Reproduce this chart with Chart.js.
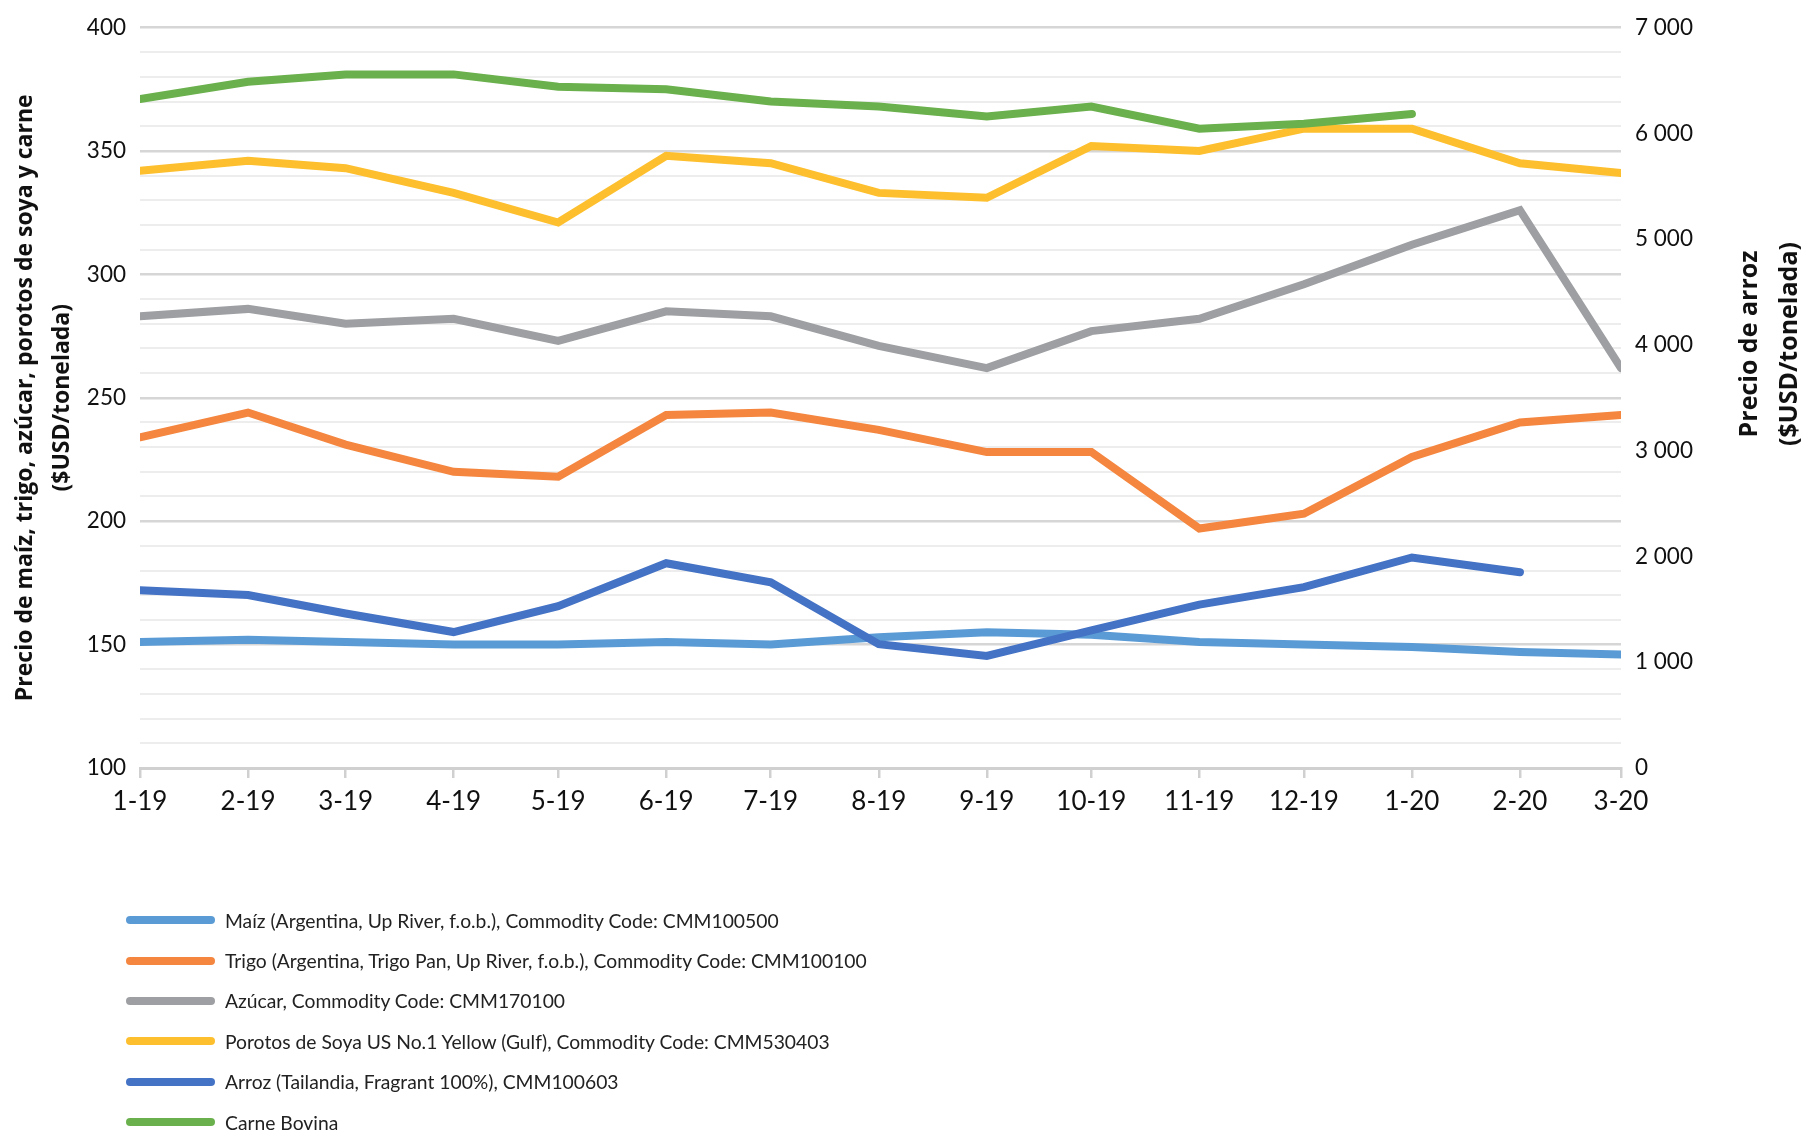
<!DOCTYPE html>
<html>
<head>
<meta charset="utf-8">
<script src="https://cdn.jsdelivr.net/npm/chart.js@4.4.1/dist/chart.umd.min.js"></script>
<style>
  html, body { margin: 0; padding: 0; background: #fff; }
  #wrap { position: relative; width: 1817px; height: 1133px; }
  #legend { position: absolute; left: 126px; top: 900px; font-family: Lato, "Open Sans", sans-serif; font-size: 19.3px; color: #222; }
  #legend .row { height: 40.4px; display: flex; align-items: center; }
  #legend .sw { width: 89px; height: 8px; border-radius: 4px; margin-right: 10px; }
</style>
</head>
<body>
<div id="wrap">
  <canvas id="myChart"></canvas>
  <div id="legend"></div>
</div>
<script>
var months = ['1-19', '2-19', '3-19', '4-19', '5-19', '6-19', '7-19', '8-19', '9-19', '10-19', '11-19', '12-19', '1-20', '2-20', '3-20'];

var maiz   = [151, 152, 151, 150, 150, 151, 150, 153, 155, 154, 151, 150, 149, 147, 146];
var trigo  = [234, 244, 231, 220, 218, 243, 244, 237, 228, 228, 197, 203, 226, 240, 243];
var azucar = [283, 286, 280, 282, 273, 285, 283, 271, 262, 277, 282, 296, 312, 326, 262];
var soya   = [342, 346, 343, 333, 321, 348, 345, 333, 331, 352, 350, 359, 359, 345, 341];
var arroz  = [1680, 1635, 1460, 1285, 1530, 1936, 1755, 1170, 1060, 1300, 1545, 1710, 1990, 1850, null];
var carne  = [371, 378, 381, 381, 376, 375, 370, 368, 364, 368, 359, 361, 365, null, null];

var leftTicks = [100, 400, 10];   // min, max, step
var rightTicks = [0, 7000, 1000];

// day offset of each month from the first one (date axis spacing)
function monthDate(lbl) {
    var p = lbl.split('-');
    return Date.UTC(2000 + Number(p[1]), Number(p[0]) - 1, 1);
}
var dayX = months.map(function (m) { return Math.round((monthDate(m) - monthDate(months[0])) / 86400000); });

function pts(arr) {
    return arr.map(function (v, i) { return {x: dayX[i], y: v}; });
}
function spaced(v) {
    return String(v).replace(/\B(?=(\d{3})+(?!\d))/g, ' ');
}

var series = [
    {label: 'Maíz (Argentina, Up River, f.o.b.), Commodity Code: CMM100500', data: maiz, color: '#5B9BD5', axis: 'y'},
    {label: 'Trigo (Argentina, Trigo Pan, Up River, f.o.b.), Commodity Code: CMM100100', data: trigo, color: '#F4863F', axis: 'y'},
    {label: 'Azúcar, Commodity Code: CMM170100', data: azucar, color: '#9D9FA2', axis: 'y'},
    {label: 'Porotos de Soya US No.1 Yellow (Gulf), Commodity Code: CMM530403', data: soya, color: '#FDBF2D', axis: 'y'},
    {label: 'Arroz (Tailandia, Fragrant 100%), CMM100603', data: arroz, color: '#4472C4', axis: 'y2'},
    {label: 'Carne Bovina', data: carne, color: '#6AB04C', axis: 'y'}
];

var rightTitle = {
    id: 'rightTitle',
    afterDraw: function (chart) {
        var c = chart.ctx;
        c.save();
        c.font = 'bold 25px "Open Sans", Lato, sans-serif';
        c.fillStyle = '#111';
        c.textAlign = 'center';
        c.textBaseline = 'middle';
        c.translate(1750, 344);
        c.rotate(-Math.PI / 2);
        c.fillText('Precio de arroz', 0, 0);
        c.fillText('($USD/tonelada)', 0, 40);
        c.restore();
    }
};

var ctx = document.getElementById('myChart').getContext('2d');
var myChart = new Chart(ctx, {
    type: 'line',
    data: {
        datasets: series.map(function (s, i) {
            return {
                label: s.label,
                data: pts(s.data),
                yAxisID: s.axis,
                borderColor: s.color,
                backgroundColor: s.color,
                borderWidth: 8,
                borderCapStyle: 'round',
                pointRadius: 0,
                tension: 0,
                fill: false,
                spanGaps: false,
                order: series.length - i
            };
        })
    },
    options: {
        responsive: true,
        maintainAspectRatio: false,
        animation: false,
        layout: {padding: {top: 21, left: 0, right: 0, bottom: 305}},
        plugins: {
            legend: {display: false},
            tooltip: {enabled: false}
        },
        scales: {
            x: {
                type: 'linear',
                min: dayX[0],
                max: dayX[dayX.length - 1],
                afterBuildTicks: function (scale) {
                    scale.ticks = dayX.map(function (v) { return {value: v}; });
                },
                afterFit: function (scale) { scale.height = 60; },
                grid: {drawOnChartArea: false, drawTicks: true, tickLength: 10, color: '#d0d0d0', lineWidth: 2.5},
                border: {display: true, color: '#d0d0d0', width: 3},
                ticks: {
                    autoSkip: false,
                    maxRotation: 0,
                    padding: 8,
                    color: '#111',
                    font: {family: 'Lato, "Open Sans", sans-serif', size: 26},
                    callback: function (v) { return months[dayX.indexOf(v)]; }
                }
            },
            y: {
                position: 'left',
                min: leftTicks[0],
                max: leftTicks[1],
                afterFit: function (scale) { scale.width = 140; },
                grid: {
                    drawTicks: false,
                    color: function (c) { return c.tick.value % 50 === 0 ? '#d6d6d6' : '#ededed'; },
                    lineWidth: function (c) { return c.tick.value % 50 === 0 ? 2.5 : 2; }
                },
                border: {display: false},
                ticks: {
                    stepSize: leftTicks[2],
                    autoSkip: false,
                    padding: 14,
                    color: '#111',
                    font: {family: 'Lato, "Open Sans", sans-serif', size: 22.5},
                    callback: function (v) { return v % 50 === 0 ? v : ''; }
                },
                title: {
                    display: true,
                    text: ['Precio de maíz, trigo, azúcar, porotos de soya y carne', '($USD/tonelada)'],
                    color: '#111',
                    padding: {top: 7, bottom: 0},
                    font: {family: '"Open Sans", Lato, sans-serif', size: 23, weight: 'bold', lineHeight: 1.61}
                }
            },
            y2: {
                position: 'right',
                min: rightTicks[0],
                max: rightTicks[1],
                afterFit: function (scale) { scale.width = 196; },
                grid: {drawOnChartArea: false, drawTicks: false},
                border: {display: false},
                ticks: {
                    stepSize: rightTicks[2],
                    padding: 14,
                    color: '#111',
                    font: {family: 'Lato, "Open Sans", sans-serif', size: 22.5},
                    callback: function (v) { return spaced(v); }
                }
            }
        }
    },
    plugins: [rightTitle]
});

var legendEl = document.getElementById('legend');
series.forEach(function (s) {
    var row = document.createElement('div');
    row.className = 'row';
    var sw = document.createElement('div');
    sw.className = 'sw';
    sw.style.background = s.color;
    var tx = document.createElement('span');
    tx.textContent = s.label;
    row.appendChild(sw);
    row.appendChild(tx);
    legendEl.appendChild(row);
});
</script>
</body>
</html>
